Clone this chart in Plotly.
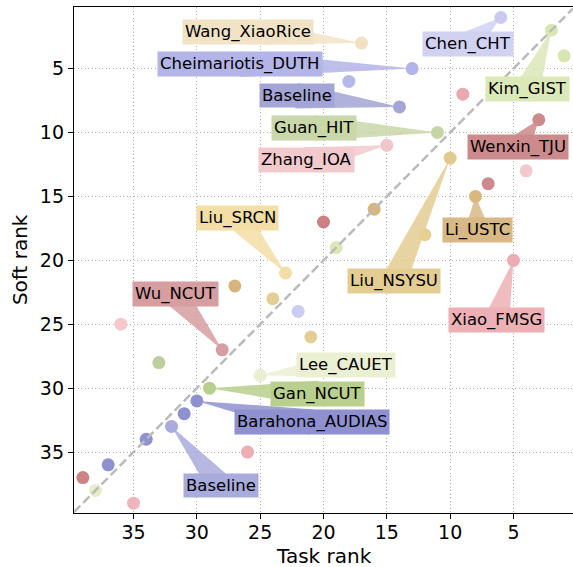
import plotly.graph_objects as go
import numpy as np

# ---- data ----
task_rank = [6, 2, 1, 17, 13, 18, 14, 9, 3, 11, 15, 10, 4, 7, 8, 16, 20, 12, 19, 5,
             23, 27, 24, 22, 36, 21, 28, 33, 25, 29, 30, 31, 32, 34, 26, 37, 39, 38, 35]
soft_rank = [1, 2, 4, 3, 5, 6, 8, 7, 9, 10, 11, 12, 13, 14, 15, 16, 17, 18, 19, 20,
             21, 22, 23, 24, 25, 26, 27, 28, 29, 30, 31, 32, 33, 34, 35, 36, 37, 38, 39]
team_label = ["Chen_CHT", "Kim_GIST", "", "Wang_XiaoRice", "Cheimariotis_DUTH", "", "Baseline",
              "", "Wenxin_TJU", "Guan_HIT", "Zhang_IOA", "Liu_NSYSU", "", "", "Li_USTC", "", "",
              "", "", "Xiao_FMSG", "Liu_SRCN", "", "", "", "", "", "Wu_NCUT", "", "Lee_CAUET",
              "Gan_NCUT", "Barahona_AUDIAS", "", "Baseline", "", "", "", "", "", ""]
tick_vals = [5, 10, 15, 20, 25, 30, 35]

# ---- styles ----
point_colors = ["#c9caf0", "#d8e6b0", "#d8e6b0", "#f1e0c3", "#b3b4e8", "#b7b8ea", "#a4a6d8",
                "#e9a9ae", "#cd8a8c", "#c6d5a5", "#f1c6ca", "#e0ca8f", "#f3c9cd", "#cd8a8c",
                "#d9b880", "#d8b67e", "#cd8084", "#e6d08f", "#dce8b4", "#ebadb3", "#f3dea6",
                "#d6b47e", "#e3cf96", "#ccccf2", "#f5c8cc", "#e3cf96", "#d69ea0", "#bccf9c",
                "#e9efd0", "#b9cf8d", "#8e90d0", "#8e90d0", "#a9abdc", "#8e90d0", "#eeadb2",
                "#8e90d0", "#cc8486", "#e8eccb", "#f0b5ba"]
box_colors = {0: "#d1d2f2", 1: "#dbe8b8", 3: "#f2e3c6", 4: "#b3b4e8", 6: "#a3a5d6",
              8: "#cc8a8c", 9: "#c9d7a9", 10: "#f2c9cc", 11: "#e3cd92", 14: "#d8b884",
              19: "#ecb0b5", 20: "#f3dea6", 26: "#d69ea0", 28: "#ebf0d3", 29: "#b9cf8d",
              30: "#8e90d0", 32: "#a9abdc"}
# label box centres (data coordinates)
label_pos = {0: (8.58, 3.04), 1: (3.89, 6.62), 3: (25.95, 2.14), 4: (26.58, 4.66),
             6: (22.12, 7.12), 8: (4.64, 11.12), 9: (20.76, 9.65), 10: (21.35, 12.14),
             11: (14.44, 21.65), 14: (7.86, 17.64), 19: (6.31, 24.65), 20: (26.83, 16.66),
             26: (31.71, 22.67), 28: (18.25, 28.18), 29: (20.44, 30.43), 30: (20.92, 32.66),
             32: (28.12, 37.64)}

FONT = "DejaVu Sans"
x_range = [39.7, 0.3]
y_range = [39.77, 0.18]

fig = go.Figure()
fig.add_trace(go.Scatter(
    x=task_rank, y=soft_rank, mode="markers",
    marker=dict(size=13, color=point_colors, line=dict(width=0)),
    hoverinfo="skip", showlegend=False))

# diagonal reference line y = x spanning the axes
diag = [x_range[0], x_range[1]]
fig.add_trace(go.Scatter(x=diag, y=diag, mode="lines",
                         line=dict(color="#bbbbbb", width=2.5, dash="9px,4px"),
                         hoverinfo="skip", showlegend=False))

half_w = 1.0
for i, name in enumerate(team_label):
    if not name:
        continue
    lx, ly = label_pos[i]
    px, py = task_rank[i], soft_rank[i]
    dx, dy = px - lx, py - ly
    L = np.hypot(dx, dy)
    nx, ny = -dy / L * half_w, dx / L * half_w
    path = (f"M {lx + nx},{ly + ny} L {lx - nx},{ly - ny} L {px},{py} Z")
    fig.add_shape(type="path", path=path, xref="x", yref="y",
                  fillcolor=box_colors[i], opacity=0.85, line=dict(width=0),
                  layer="between")
    fig.add_annotation(x=lx, y=ly, xref="x", yref="y", text=name, showarrow=False,
                       xanchor="center", yanchor="middle",
                       font=dict(family=FONT, size=16.5, color="black"),
                       bgcolor=box_colors[i], borderpad=2)

# axis titles
fig.add_annotation(x=0.5, y=-0.085, xref="paper", yref="paper", text="Task rank",
                   showarrow=False, xanchor="center", yanchor="middle",
                   font=dict(family=FONT, size=20, color="black"))
fig.add_annotation(x=-0.108, y=0.5, xref="paper", yref="paper", text="Soft rank",
                   showarrow=False, xanchor="center", yanchor="middle", textangle=-90,
                   font=dict(family=FONT, size=20, color="black"))

axis_common = dict(
    showgrid=True, gridcolor="#b0b0b0", gridwidth=1, griddash="1px,2.5px",
    zeroline=False, showline=True, linecolor="black", linewidth=1.3,
    ticks="outside", ticklen=5, tickwidth=1.3, tickcolor="black",
    tickvals=tick_vals, tickfont=dict(family=FONT, size=19, color="black"),
)
fig.update_xaxes(range=x_range, mirror=True, ticklabelstandoff=-3, **axis_common)
fig.update_yaxes(range=y_range, **axis_common)
fig.update_layout(
    width=573, height=567,
    margin=dict(l=74, r=0, t=7, b=54),
    plot_bgcolor="white", paper_bgcolor="white",
)
fig.write_html("out.html")
